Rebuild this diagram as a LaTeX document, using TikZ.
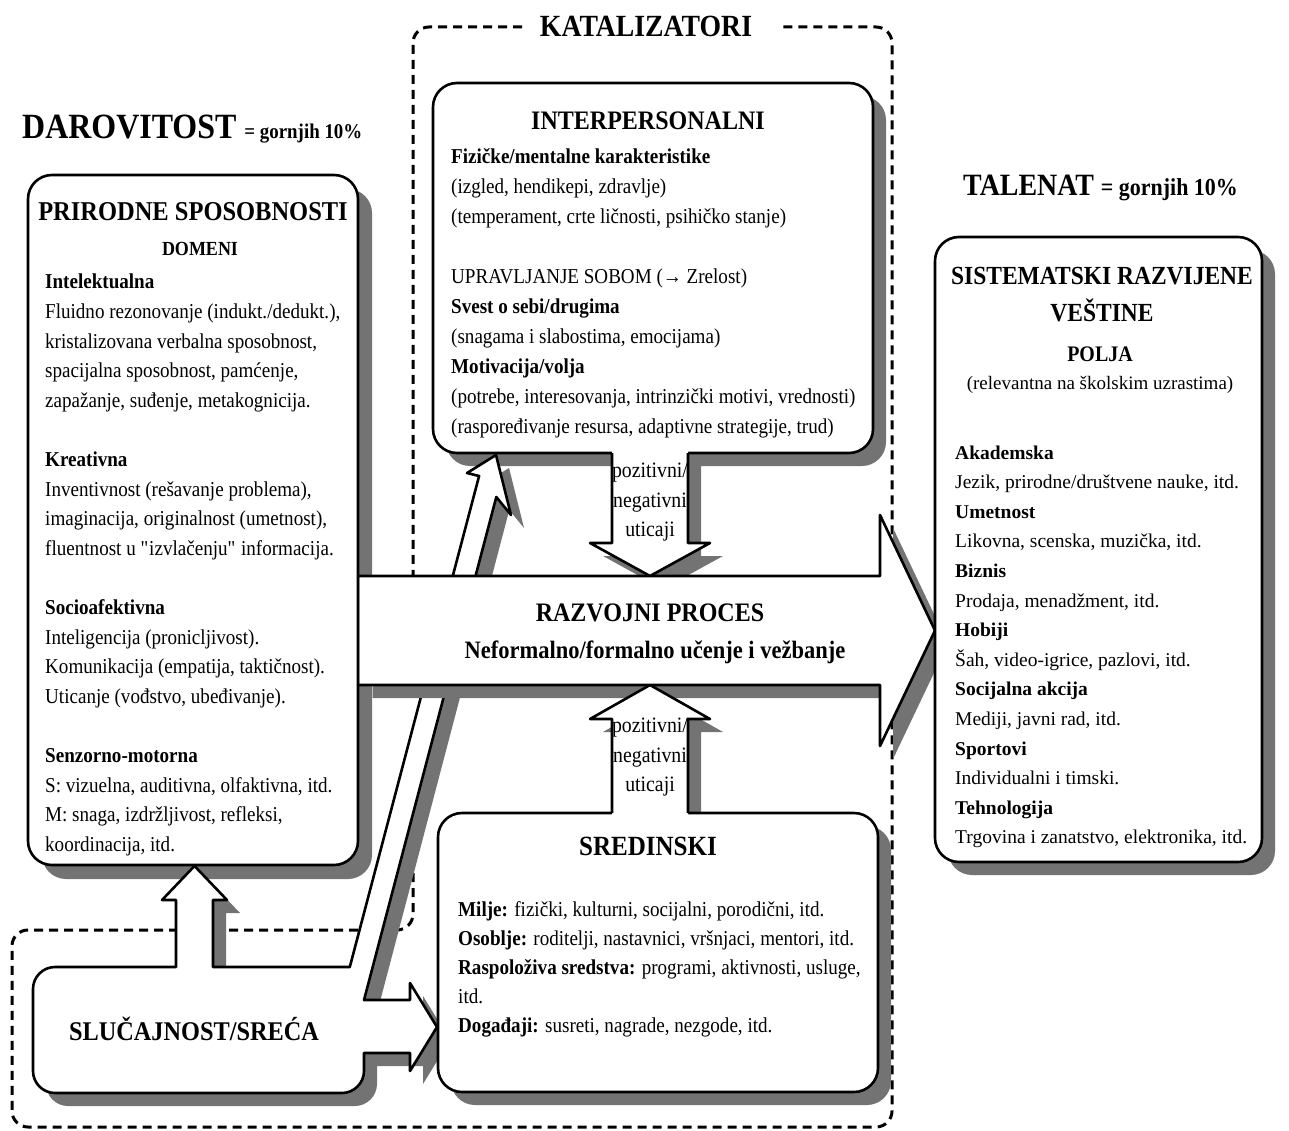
\documentclass[tikz,border=0pt]{standalone}
\usepackage{fontspec}
\setmainfont{Liberation Serif}[FakeStretch=0.9]
\newfontfamily\widefont{Liberation Serif}
\newcommand\fsz[2]{\fontsize{#1}{#2}\selectfont}
\newcommand\downarrowpath{(612,449) -- (612,543) -- (590,543) -- (650,576) -- (710,543) -- (688,543) -- (688,449)}
\newcommand\uparrowpath{(612,817) -- (612,719) -- (590,719) -- (650,685) -- (710,719) -- (688,719) -- (688,817)}
\newcommand\bigarrowpath{(359.5,576) -- (880,576) -- (880,515) -- (935,630.5) -- (880,746) -- (880,685) -- (359.5,685) -- cycle}
\newcommand\chancepath{(176,967) -- (176,900) -- (162,900) -- (194.5,866) -- (227,900) -- (213,900) -- (213,967) -- (349.8,967) -- (479.1,476) -- (467,473) -- (496,455) -- (511,515) -- (496.3,497) -- (364,1000) -- (410,1000) -- (410,983) -- (437,1027) -- (410,1071) -- (410,1053) -- (364,1053) -- (364,1071) .. controls (364,1083.1) and (353.9,1093) .. (342,1093) -- (55,1093) .. controls (42.9,1093) and (33,1083.1) .. (33,1071) -- (33,989) .. controls (33,976.9) and (42.9,967) .. (55,967) -- cycle}
\tikzset{
  outline/.style={draw=black, line width=2.6pt, line join=round},
  shadowfill/.style={fill=black!55},
  whitefill/.style={fill=white},
  roundbox/.style={rounded corners=24pt},
  dashline/.style={draw=black, line width=3pt, dash pattern=on 9pt off 6pt, rounded corners=16pt},
  txt/.style={inner sep=0pt, anchor=base west, font=\fsz{21.2}{24}},
  rtxt/.style={inner sep=0pt, anchor=base west, font=\widefont\fsz{19.5}{22}},
  ttl/.style={inner sep=0pt, anchor=base, font=\fsz{26.7}{30}\bfseries},
  infl/.style={inner sep=0pt, anchor=base, font=\fsz{22}{24}},
}
\begin{document}
\begin{tikzpicture}[x=1pt,y=-1pt]
\useasboundingbox (0,0) rectangle (1289,1131);
\fill[white] (0,0) rectangle (1289,1131);

% catalysts region (dashed)
\draw[dashline] (522,27) -- (413,27) -- (413,580);
\draw[dashline] (413,858) -- (413,930) -- (12,930) -- (12,1127) -- (892,1127) -- (892,27) -- (782,27);

% natural abilities box
\fill[shadowfill, roundbox] (42,189) rectangle (372,879);
\draw[outline, whitefill, roundbox] (28,175) rectangle (358,865);

% intrapersonal box with downward influence arrow
\fill[shadowfill, shift={(13,13)}] \downarrowpath -- cycle;
\fill[shadowfill, roundbox] (446,96) rectangle (886,466);
\draw[outline, whitefill, roundbox] (433,83) rectangle (873,453);
\fill[whitefill] \downarrowpath -- cycle;
\draw[outline] (612,453) -- (612,543) -- (590,543) -- (650,576) -- (710,543) -- (688,543) -- (688,453);

% chance shape with its three arrows
\fill[shadowfill, shift={(13,13)}] \chancepath;
\draw[outline, whitefill] \chancepath;

% environmental box
\fill[shadowfill, shift={(13,13)}] \uparrowpath -- cycle;
\fill[shadowfill, roundbox] (451,826) rectangle (891,1105);
\draw[outline, whitefill, roundbox] (438,813) rectangle (878,1092);

% big arrow shadow, upward influence arrow, big arrow
\fill[shadowfill, shift={(13,13)}] \bigarrowpath;
\fill[whitefill] \uparrowpath -- cycle;
\draw[outline] (612,813) -- (612,719) -- (590,719) -- (650,685) -- (710,719) -- (688,719) -- (688,813);
\fill[whitefill] \bigarrowpath;
\draw[outline] (358,576) -- (880,576) -- (880,515) -- (935,630.5) -- (880,746) -- (880,685) -- (358,685);

% talent box
\fill[shadowfill, roundbox] (948,250) rectangle (1275,875);
\draw[outline, whitefill, roundbox] (935,237) rectangle (1262,862);

% headings
\node[inner sep=0pt, anchor=base west, font=\fsz{35.5}{40}\bfseries] (darov) at (22,139) {DAROVITOST {\fsz{21}{24}= gornjih 10\%}};
\node[inner sep=0pt, anchor=base west, font=\fsz{31}{35}\bfseries] (talent) at (963,196) {TALENAT {\fsz{24.4}{28}= gornjih 10\%}};
\node[ttl, font=\fsz{30.8}{34}\bfseries] (katal) at (646,37) {KATALIZATORI};

% natural abilities text
\node[ttl, font=\fsz{27.2}{30}\bfseries] (natT) at (193,221) {PRIRODNE SPOSOBNOSTI};
\node[ttl, font=\fsz{20}{24}\bfseries] (natD) at (200,256) {DOMENI};
\foreach \t [count=\i from 0] in {{\textbf{Intelektualna}},
  {Fluidno rezonovanje (indukt./dedukt.),},
  {kristalizovana verbalna sposobnost,},
  {spacijalna sposobnost, pamćenje,},
  {zapažanje, suđenje, metakognicija.},
  {},
  {\textbf{Kreativna}},
  {Inventivnost (rešavanje problema),},
  {imaginacija, originalnost (umetnost),},
  {fluentnost u \textquotedbl izvlačenju\textquotedbl{} informacija.},
  {},
  {\textbf{Socioafektivna}},
  {Inteligencija (pronicljivost).},
  {Komunikacija (empatija, taktičnost).},
  {Uticanje (vođstvo, ubeđivanje).},
  {},
  {\textbf{Senzorno-motorna}},
  {S: vizuelna, auditivna, olfaktivna, itd.},
  {M: snaga, izdržljivost, refleksi,},
  {koordinacija, itd.}}
  \node[txt] (nat\i) at (45,{289+\i*29.6}) {\t};

% intrapersonal text
\node[ttl] (intT) at (648,130) {INTERPERSONALNI};
\foreach \t [count=\i from 0] in {{\textbf{Fizičke/mentalne karakteristike}},
  {(izgled, hendikepi, zdravlje)},
  {(temperament, crte ličnosti, psihičko stanje)},
  {},
  {UPRAVLJANJE SOBOM (→ Zrelost)},
  {\textbf{Svest o sebi/drugima}},
  {(snagama i slabostima, emocijama)},
  {\textbf{Motivacija/volja}},
  {(potrebe, interesovanja, intrinzički motivi, vrednosti)},
  {(raspoređivanje resursa, adaptivne strategije, trud)}}
  \node[txt] (int\i) at (451,{164+\i*29.9}) {\t};

% influence labels
\node[infl] (up1) at (650,477) {pozitivni/};
\node[infl] (up2) at (650,507) {negativni};
\node[infl] (up3) at (650,536) {uticaji};
\node[infl] (lo1) at (650,732) {pozitivni/};
\node[infl] (lo2) at (650,762) {negativni};
\node[infl] (lo3) at (650,791) {uticaji};

% development process
\node[ttl] (devT) at (650,621) {RAZVOJNI PROCES};
\node[ttl, font=\fsz{25}{28}\bfseries] (devS) at (655,658) {Neformalno/formalno učenje i vežbanje};

% environmental text
\node[ttl, font=\fsz{27.8}{30}\bfseries] (envT) at (648,855) {SREDINSKI};
\foreach \t [count=\i from 0] in {{\textbf{Milje:} fizički, kulturni, socijalni, porodični, itd.},
  {\textbf{Osoblje:} roditelji, nastavnici, vršnjaci, mentori, itd.},
  {\textbf{Raspoloživa sredstva:} programi, aktivnosti, usluge,},
  {itd.},
  {\textbf{Događaji:} susreti, nagrade, nezgode, itd.}}
  \node[txt] (env\i) at (458,{916+\i*29.2}) {\t};

% chance
\node[ttl, font=\fsz{27}{30}\bfseries] (chT) at (194,1040) {SLUČAJNOST/SREĆA};

% talent text
\node[ttl, font=\fsz{26.1}{30}\bfseries] (talT1) at (1102,285) {SISTEMATSKI RAZVIJENE};
\node[ttl, font=\fsz{26.1}{30}\bfseries] (talT2) at (1102,321) {VEŠTINE};
\node[ttl, font=\fsz{22.2}{26}\bfseries] (polja) at (1100,361) {POLJA};
\node[inner sep=0pt, anchor=base, font=\widefont\fsz{19}{22}] (rel) at (1100,389) {(relevantna na školskim uzrastima)};
\foreach \t [count=\i from 0] in {{\textbf{Akademska}},
  {Jezik, prirodne/društvene nauke, itd.},
  {\textbf{Umetnost}},
  {Likovna, scenska, muzička, itd.},
  {\textbf{Biznis}},
  {Prodaja, menadžment, itd.},
  {\textbf{Hobiji}},
  {Šah, video-igrice, pazlovi, itd.},
  {\textbf{Socijalna akcija}},
  {Mediji, javni rad, itd.},
  {\textbf{Sportovi}},
  {Individualni i timski.},
  {\textbf{Tehnologija}},
  {Trgovina i zanatstvo, elektronika, itd.}}
  \node[rtxt] (tal\i) at (955,{459+\i*29.6}) {\t};
\end{tikzpicture}
\end{document}
